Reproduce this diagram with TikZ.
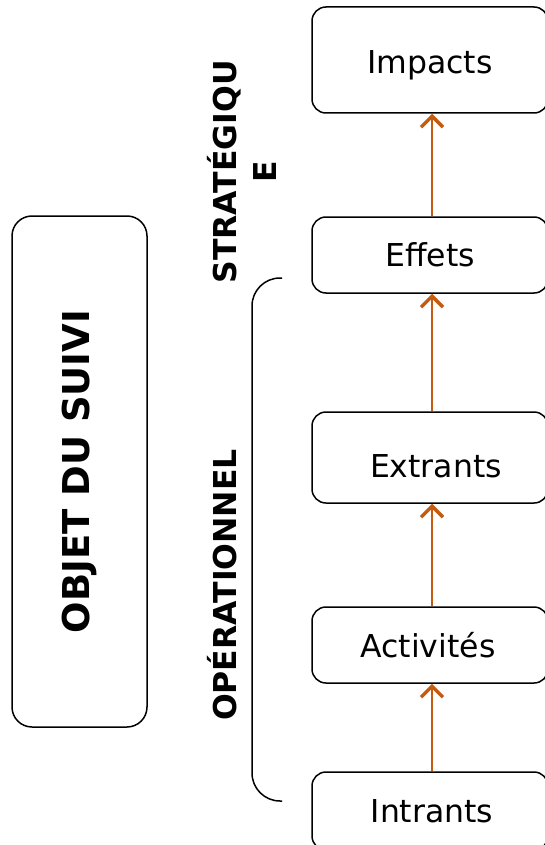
\documentclass[tikz,border=0pt]{standalone}
\usepackage{fontspec}
\setmainfont{DejaVu Sans}
\usetikzlibrary{arrows.meta,positioning}
\definecolor{orangefleche}{HTML}{C55A11}

\begin{document}
\begin{tikzpicture}[x=1pt,y=-1pt,
	etape/.style={draw, line width=1.5pt, rounded corners=14pt, minimum width=236pt, inner sep=0pt, font=\fontsize{31.5}{36}\selectfont},
	fleche/.style={draw=orangefleche, line width=2pt, -{Straight Barb[length=11pt,width=22pt,line width=3.5pt]}},
	titre/.style={rotate=90, font=\fontsize{31.5}{40}\selectfont\bfseries, align=center}]
			\useasboundingbox (0,0) rectangle (545,845);
			\clip (0,0) rectangle (545,845);
			% les etapes de la chaine
			\node [etape, minimum height=106pt, text height=33pt] (impacts) at (430,60) {Impacts};
			\node [etape, minimum height=76pt] (effets) at (430,255) {Effets};
			\node [etape, minimum height=91pt, text height=41pt] (extrants) at (430,457.5) {\hspace*{12pt}Extrants};
			\node [etape, minimum height=76pt] (activites) at (430,645) {Activités\hspace*{4pt}};
			\node [etape, minimum height=78pt] (intrants) at (430,811) {\hspace*{4pt}Intrants};
			\draw [fleche] ([xshift=2pt]intrants.north) -- ([xshift=2pt]activites.south);
			\draw [fleche] ([xshift=2pt]activites.north) -- ([xshift=2pt]extrants.south);
			\draw [fleche] ([xshift=2pt]extrants.north) -- ([xshift=2pt]effets.south);
			\draw [fleche] ([xshift=2pt]effets.north) -- ([xshift=2pt]impacts.south);
			% accolade du niveau operationnel
			\draw [line width=1.5pt, rounded corners=28pt] (282,278) -- (252,278) -- (252,801) -- (282,801);
			\node [titre] (operationnel) at (222,585) {OPÉRATIONNEL};
			\node [titre] (strategique) at (242,172) {STRATÉGIQU\\E};
			% objet du suivi
			\node [draw, line width=1.5pt, rounded corners=20pt, rotate=90, minimum width=511pt, minimum height=135pt, font=\fontsize{37}{40}\selectfont\bfseries] (objet) at (79.5,471.5) {OBJET DU SUIVI};
\end{tikzpicture}
\end{document}
